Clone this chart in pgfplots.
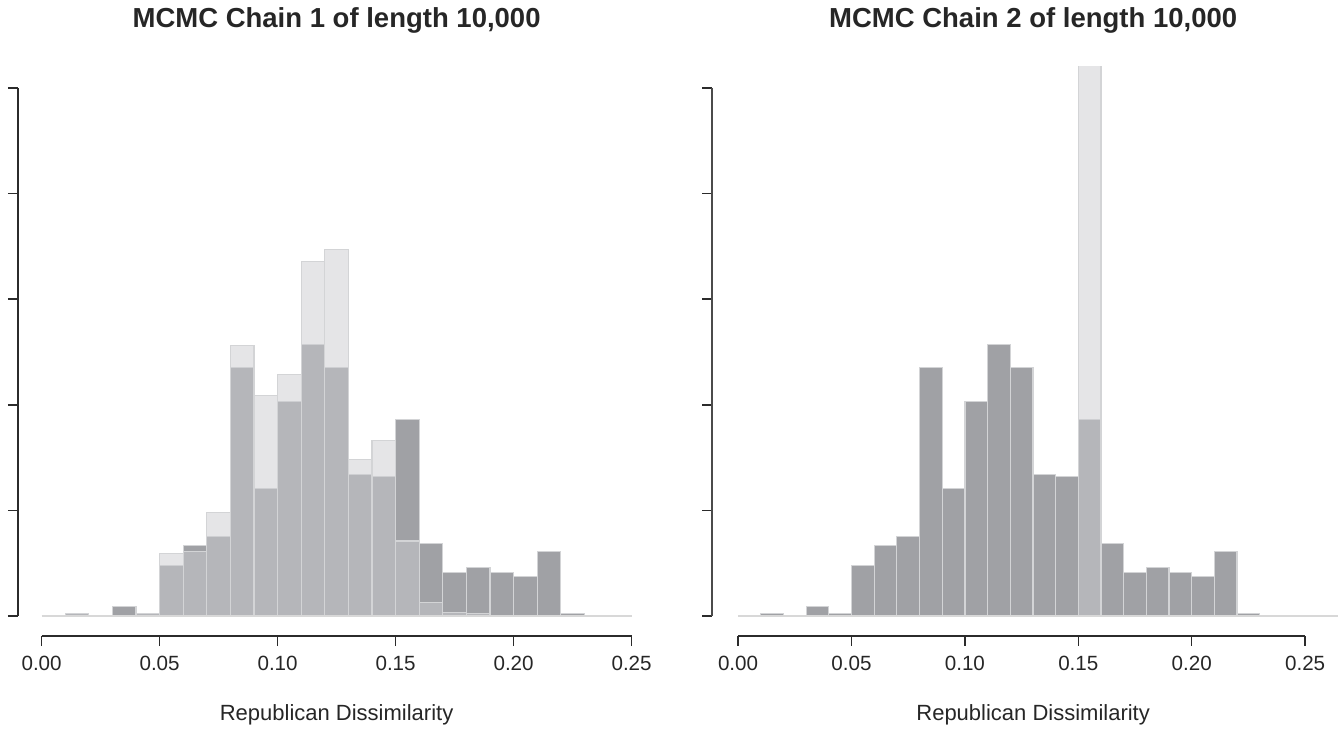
\documentclass[border=0pt]{standalone}
\usepackage{fontspec}
\setmainfont{Liberation Sans}
\usepackage{pgfplots}
\usepackage{pgfplotstable}
\pgfplotsset{compat=1.18}
\definecolor{darkbar}{HTML}{A0A1A5}
\definecolor{lightbar}{HTML}{CBCCD0}
\definecolor{edge}{HTML}{D3D4D6}
\definecolor{baseln}{HTML}{D8D8D8}
\definecolor{axcol}{HTML}{2B2B2B}

\pgfplotstableread{
x y
0.015 0.12
0.035 0.45
0.045 0.1
0.055 2.4
0.065 3.35
0.075 3.75
0.085 11.75
0.095 6.05
0.105 10.15
0.115 12.85
0.125 11.75
0.135 6.7
0.145 6.6
0.155 9.3
0.165 3.45
0.175 2.05
0.185 2.28
0.195 2.05
0.205 1.85
0.215 3.05
0.225 0.1
}\darkdata

\pgfplotstableread{
x y
0.015 0.1
0.045 0.1
0.055 2.95
0.065 3.05
0.075 4.9
0.085 12.8
0.095 10.45
0.105 11.45
0.115 16.8
0.125 17.35
0.135 7.4
0.145 8.3
0.155 3.55
0.165 0.65
0.175 0.18
0.185 0.12
}\lightone

\pgfplotstableread{
x y
0.155 100
}\lighttwo

\pgfplotsset{
  histax/.style={
    scale only axis, clip mode=individual,
    anchor=south west,
    ymin=-0.95, ymax=26, height=284.5pt,
    axis x line*=bottom, axis y line*=left,
    axis line style={draw=none},
    tick align=outside, major tick length=5pt,
    tick style={line width=0.75pt, color=axcol},
    xtick={0,0.05,0.1,0.15,0.2,0.25},
    ytick={0,5,10,15,20,25}, yticklabels={},
    scaled x ticks=false,
    xticklabel style={/pgf/number format/.cd, fixed, fixed zerofill, precision=2, assume math mode=true, /tikz/.cd, font=\fontsize{10.3}{12}\selectfont, text=black!85, yshift=-1.5pt},
  },
  darkh/.style={ybar, bar width=0.01, bar shift=0pt, fill=darkbar, draw=edge, line width=0.6pt},
  lighth/.style={ybar, bar width=0.01, bar shift=0pt, fill=lightbar, fill opacity=0.5, draw=edge, line width=0.6pt},
}

\begin{document}
\begin{tikzpicture}
\useasboundingbox (0,0) rectangle (669pt,364pt);

% left panel
\begin{axis}[histax, at={(9pt,46pt)}, width=318.6pt, xmin=-0.01, xmax=0.26]
\addplot[darkh] table[x=x,y=y] {\darkdata};
\addplot[lighth] table[x=x,y=y] {\lightone};
\addplot[baseln, line width=1pt] coordinates {(0,0) (0.25,0)};
\draw[axcol, line width=0.75pt] (axis cs:0,-0.95) -- (axis cs:0.25,-0.95);
\draw[axcol, line width=0.75pt] (axis cs:-0.01,0) -- (axis cs:-0.01,25);
\node[font=\fontsize{13.75}{16}\selectfont\bfseries, text=black!85, anchor=center, yshift=23.5pt] at (axis description cs:0.5,1) {MCMC Chain 1 of length 10,000};
\node[font=\fontsize{11}{13}\selectfont, text=black!85, anchor=center, yshift=-39.5pt] at (axis description cs:0.5,0) {Republican Dissimilarity};
\end{axis}

% right panel
\begin{axis}[histax, at={(356pt,46pt)}, width=313pt, xmin=-0.0115, xmax=0.2645]
\addplot[darkh] table[x=x,y=y] {\darkdata};
\addplot[lighth] table[x=x,y=y] {\lighttwo};
\addplot[baseln, line width=1pt] coordinates {(0,0) (0.2645,0)};
\draw[axcol, line width=0.75pt] (axis cs:0,-0.95) -- (axis cs:0.25,-0.95);
\draw[axcol!85, line width=0.75pt] (axis cs:-0.0115,0) -- (axis cs:-0.0115,25);
\node[font=\fontsize{13.75}{16}\selectfont\bfseries, text=black!85, anchor=center, yshift=23.5pt] at (axis description cs:0.513,1) {MCMC Chain 2 of length 10,000};
\node[font=\fontsize{11}{13}\selectfont, text=black!85, anchor=center, yshift=-39.5pt] at (axis description cs:0.513,0) {Republican Dissimilarity};
\end{axis}
\end{tikzpicture}
\end{document}
